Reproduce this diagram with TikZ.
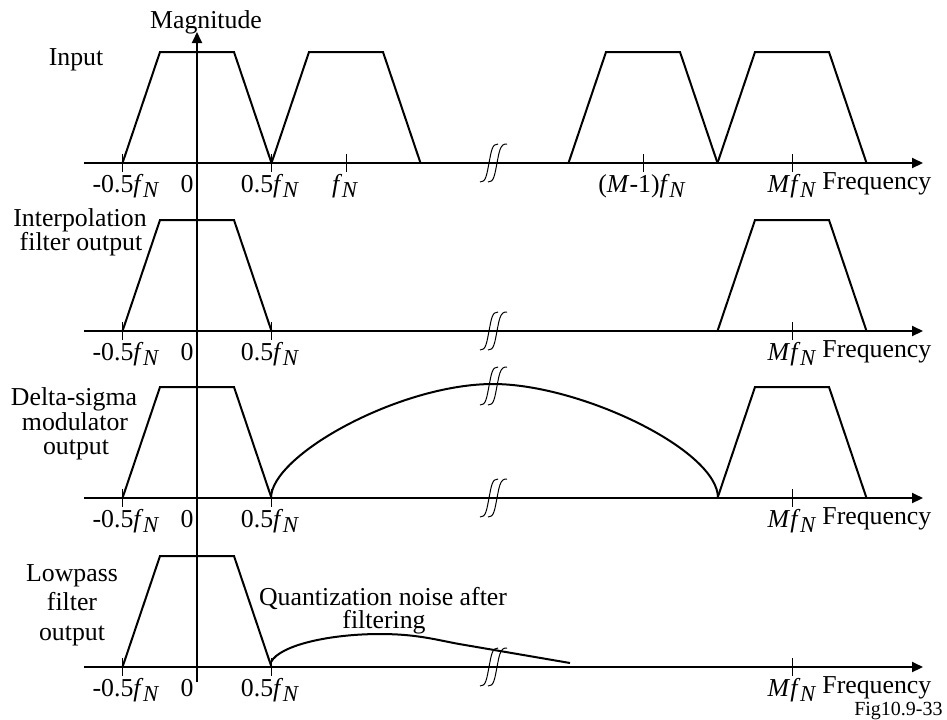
\documentclass[tikz,border=0pt]{standalone}
\usepackage{fontspec}
\setmainfont{Liberation Serif}
\usepackage{graphicx}
\usetikzlibrary{arrows.meta}
\newcommand{\fN}{\textit{f}\kern-0.2pt\raisebox{-0.45ex}{\scalebox{0.88}{\textit{N}}}}
\tikzset{
  lbl/.style={font=\fontsize{12.9}{12.9}\selectfont, inner sep=0pt, anchor=base},
  small/.style={font=\fontsize{10}{10}\selectfont, inner sep=0pt, anchor=base east},
  axisline/.style={line width=1pt, -{Triangle[length=5.5pt,width=5pt]}},
  curve/.style={line width=1pt, line join=miter},
  tick/.style={line width=0.5pt},
  brk/.pic={
    \draw[line width=0.5pt] (-13,19) .. controls (-7,20) and (-6,10) .. (-4,0) .. controls (-2,-10) and (-1,-20) .. (5,-19);
    \draw[line width=0.5pt] (-5,19) .. controls (1,20) and (2,10) .. (4,0) .. controls (6,-10) and (7,-20) .. (14,-19);
  }
}
\begin{document}
\begin{tikzpicture}[x=0.5pt,y=-0.5pt]
\useasboundingbox (0,0) rectangle (947,719);

% vertical axis
\coordinate (vbot) at (197,682);
\coordinate (vtop) at (197,32);
\draw[axisline] (vbot) -- (vtop);
\node[lbl] (mag) at (206,28) {Magnitude};

% horizontal axes, ticks, labels
\foreach \ay/\p in {163/1,331/2,498/3,667/4}{
  \coordinate (hs\p) at (84,\ay);
  \coordinate (he\p) at (923,\ay);
  \draw[axisline] (hs\p) -- (he\p);
  \foreach \tx in {122,271,792}{
    \draw[tick] (\tx,\ay-9) -- (\tx,\ay+9);
  }
  \pic at (493,\ay) {brk};
  \node[lbl] (lm\p) at (126,\ay+29) {-0.5\fN};
  \node[lbl] (lz\p) at (187,\ay+29) {0};
  \node[lbl] (lp\p) at (270,\ay+29) {0.5\fN};
  \node[lbl] (lM\p) at (792,\ay+29) {\textit{M}\fN};
  \node[lbl, anchor=base west] (lf\p) at (822,\ay+26) {Frequency};
}
% extra ticks panel 1
\draw[tick] (346,154) -- (346,172);
\draw[tick] (643,154) -- (643,172);
\node[lbl] (lfN) at (345,192) {\fN};
\node[lbl] (lM1) at (642,192) {(\textit{M}-1)\fN};

% trapezoids
\foreach \c/\ay in {197/163,346/163,643/163,792/163,197/331,792/331,197/498,792/498,197/667}{
  \draw[curve] (\c-74.5,\ay) -- (\c-37,\ay-111) -- (\c+37,\ay-111) -- (\c+74.5,\ay);
}

% delta-sigma noise arc
\draw[curve] (271,498) .. controls (271,455) and (400,384) .. (493,384)
  .. controls (580,384) and (718,450) .. (718,498);
\pic at (493,386) {brk};

% filtered noise
\draw[curve] (271,662) .. controls (280,645) and (330,634) .. (380,634)
  .. controls (420,634) and (440,641) .. (465,645) -- (570,663);

% panel labels
\node[lbl] (in) at (76,65) {Input};
\node[lbl] (ia) at (80,226) {Interpolation};
\node[lbl] (ib) at (81,250) {filter output};
\node[lbl] (da) at (74,405) {Delta-sigma};
\node[lbl] (db) at (75,430) {modulator};
\node[lbl] (dc) at (76,454) {output};
\node[lbl] (pa) at (72,581) {Lowpass};
\node[lbl] (pb) at (72,610) {filter};
\node[lbl] (pc) at (72,640) {output};
\node[lbl] (qa) at (383,605) {Quantization noise after};
\node[lbl] (qb) at (384,628) {filtering};
\node[small] (fig) at (943,715) {Fig10.9-33};
\end{tikzpicture}
\end{document}
